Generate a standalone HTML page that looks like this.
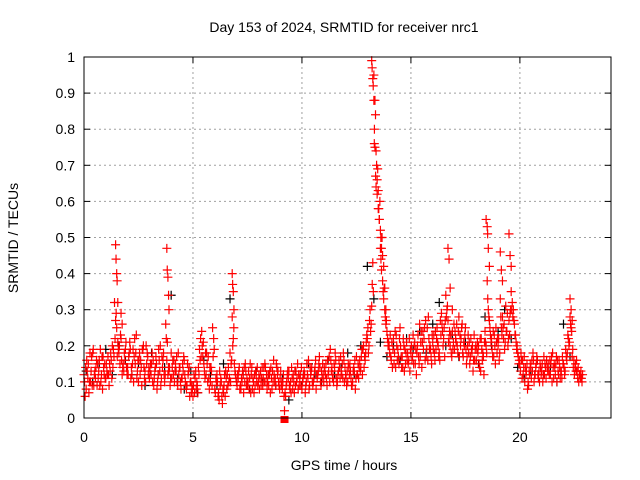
<!DOCTYPE html>
<html><head><meta charset="utf-8"><style>
body{margin:0;background:#fff}
svg{display:block;font-family:"Liberation Sans",sans-serif}
</style></head><body>
<svg id="chart" width="640" height="480" viewBox="0 0 640 480">
<rect width="640" height="480" fill="#fff"/>
<text x="344" y="32" font-size="14" text-anchor="middle">Day 153 of 2024, SRMTID for receiver nrc1</text>
<text x="344" y="470" font-size="14" text-anchor="middle">GPS time / hours</text>
<text transform="translate(18,238) rotate(-90)" font-size="14" text-anchor="middle">SRMTID / TECUs</text>
<g id="grid"></g><g id="ticks"></g><g id="black"></g><g id="red"></g>
<rect x="84" y="57" width="527" height="361" fill="none" stroke="#000" stroke-width="1"/>
</svg>
<script>
const xTicks=[0,5,10,15,20];
const yTicks=[0,0.1,0.2,0.3,0.4,0.5,0.6,0.7,0.8,0.9,1];
const yTickLabels=["0","0.1","0.2","0.3","0.4","0.5","0.6","0.7","0.8","0.9","1"];
const seriesStep=0.1;
const seriesAStart=0, seriesBStart=0.05, seriesCStart=0.025, seriesDStart=0.075;
const seriesA=[.12,.08,.15,.10,.18,.13,.09,.16,.12,.14,.11,.17,.13,.20,.32,.25,.18,.22,.15,.19,.14,.21,.12,.17,.23,.10,.16,.19,.13,.18,.11,.15,.09,.17,.12,.20,.14,.10,.16,.13,.18,.12,.15,.09,.14,.11,.16,.08,.13,.10,.06,.11,.09,.19,.24,.15,.12,.17,.10,.25,.08,.12,.05,.10,.07,.13,.09,.18,.28,.15,.10,.13,.08,.12,.15,.09,.11,.14,.07,.12,.10,.13,.09,.15,.08,.12,.11,.16,.09,.13,.11,.08,.02,.10,.13,.07,.12,.09,.15,.11,.08,.13,.10,.16,.12,.09,.14,.11,.17,.13,.10,.15,.12,.19,.11,.14,.09,.16,.13,.18,.12,.10,.15,.09,.13,.17,.11,.14,.19,.16,.22,.27,.31,.95,.74,.63,.47,.38,.30,.24,.20,.16,.22,.14,.19,.25,.17,.13,.21,.16,.18,.23,.15,.20,.26,.14,.22,.17,.28,.19,.21,.16,.25,.18,.29,.22,.34,.27,.20,.24,.19,.26,.28,.22,.17,.25,.20,.15,.18,.23,.16,.20,.13,.18,.24,.38,.27,.22,.17,.25,.20,.33,.28,.19,.24,.27,.35,.30,.23,.18,.15,.11,.17,.13,.09,.14,.18,.12,.16,.10,.13,.17,.11,.15,.12,.18,.14,.10,.16,.13,.15,.19,.23,.28,.17,.12,.16,.10,.13];
const seriesB=[.06,.13,.10,.17,.09,.14,.11,.19,.08,.15,.13,.09,.16,.19,.27,.21,.15,.12,.18,.14,.17,.11,.19,.15,.13,.18,.09,.14,.20,.12,.15,.10,.13,.08,.16,.11,.18,.26,.12,.09,.14,.10,.17,.12,.08,.13,.10,.15,.06,.09,.12,.08,.14,.22,.17,.11,.15,.08,.13,.22,.11,.06,.09,.04,.12,.08,.10,.15,.22,.12,.12,.08,.10,.14,.09,.13,.07,.11,.09,.14,.08,.11,.14,.10,.12,.07,.13,.10,.14,.09,.09,.12,.06,.13,.08,.11,.07,.10,.12,.09,.11,.07,.12,.09,.14,.11,.08,.13,.10,.15,.13,.09,.17,.13,.10,.16,.12,.11,.15,.10,.09,.14,.11,.13,.08,.12,.16,.19,.14,.21,.18,.24,.43,.88,.66,.55,.41,.33,.26,.20,.23,.14,.18,.20,.15,.17,.22,.15,.18,.13,.16,.20,.12,.17,.21,.24,.16,.25,.19,.15,.23,.19,.20,.27,.24,.17,.30,.22,.18,.21,.22,.18,.23,.26,.20,.15,.18,.22,.13,.19,.21,.14,.19,.12,.20,.30,.23,.17,.20,.18,.16,.25,.22,.31,.20,.29,.32,.26,.19,.15,.18,.12,.14,.08,.12,.16,.10,.15,.11,.14,.10,.15,.14,.12,.17,.11,.15,.13,.11,.17,.12,.16,.20,.25,.14,.15,.11,.12,.10];
const seriesC=[.10,.16,.07,.13,.19,.11,.15,.09,.17,.12,.15,.12,.18,.14,.22,.17,.20,.16,.13,.21,.12,.19,.15,.22,.11,.16,.14,.20,.10,.17,.13,.18,.11,.15,.19,.09,.16,.12,.21,.14,.11,.16,.13,.18,.10,.15,.12,.09,.14,.07,.09,.13,.07,.16,.20,.13,.18,.11,.14,.17,.07,.10,.13,.06,.09,.11,.14,.10,.20,.13,.09,.14,.11,.07,.13,.10,.15,.08,.12,.10,.12,.09,.11,.14,.10,.13,.08,.12,.15,.10,.13,.10,.07,.12,.09,.14,.10,.13,.08,.12,.10,.12,.15,.08,.13,.10,.16,.12,.14,.11,.14,.11,.13,.16,.12,.18,.10,.14,.12,.16,.11,.15,.13,.10,.16,.12,.14,.17,.20,.18,.25,.30,.37,.80,.70,.58,.44,.35,.28,.22,.18,.21,.15,.23,.17,.20,.14,.19,.16,.22,.20,.15,.19,.23,.17,.21,.25,.19,.22,.17,.19,.24,.21,.16,.26,.25,.28,.21,.23,.19,.24,.20,.17,.25,.21,.19,.23,.17,.20,.16,.19,.15,.22,.17,.21,.33,.25,.19,.23,.21,.22,.28,.25,.21,.29,.23,.30,.27,.21,.17,.13,.16,.10,.15,.13,.11,.16,.14,.12,.15,.15,.12,.16,.13,.15,.14,.12,.16,.14,.11,.14,.17,.22,.26,.19,.14,.13,.12,.11];
const seriesD=[.14,.11,.18,.09,.12,.16,.13,.10,.17,.11,.12,.15,.11,.17,.29,.19,.23,.14,.16,.12,.18,.14,.10,.18,.16,.12,.19,.11,.15,.14,.12,.16,.14,.10,.13,.17,.12,.22,.14,.11,.16,.13,.10,.14,.11,.17,.09,.12,.10,.08,.07,.10,.12,.17,.21,.18,.10,.14,.09,.19,.10,.07,.11,.08,.06,.12,.11,.16,.25,.11,.11,.09,.13,.10,.11,.08,.12,.10,.13,.09,.11,.14,.10,.12,.09,.14,.10,.11,.12,.08,.10,.06,.09,.11,.10,.08,.13,.11,.09,.14,.12,.09,.11,.14,.10,.13,.12,.15,.09,.12,.12,.16,.10,.14,.15,.11,.13,.17,.11,.14,.13,.12,.09,.14,.11,.15,.13,.12,.17,.23,.20,.26,.35,.84,.69,.60,.50,.36,.27,.21,.17,.19,.24,.16,.22,.14,.20,.18,.15,.19,.17,.21,.18,.15,.24,.19,.27,.16,.20,.23,.18,.22,.17,.23,.20,.27,.31,.24,.17,.26,.21,.24,.20,.18,.23,.17,.21,.19,.16,.20,.18,.22,.16,.21,.18,.28,.21,.24,.15,.22,.18,.23,.26,.24,.22,.30,.28,.23,.20,.16,.16,.14,.12,.10,.15,.13,.12,.17,.13,.12,.12,.14,.13,.16,.10,.15,.17,.12,.13,.15,.13,.18,.21,.24,.16,.13,.14,.11,.12];
const spikeT=[1.45,1.47,1.5,1.52,1.55,1.7,1.75,3.8,3.82,3.85,3.88,3.9,6.8,6.82,6.85,6.88,13.2,13.22,13.25,13.27,13.3,13.32,13.35,13.38,13.4,13.45,13.5,13.55,13.6,13.62,13.65,13.7,13.75,13.8,13.85,16.7,16.75,16.8,16.9,18.45,18.5,18.52,18.55,18.6,19.1,19.15,19.2,19.5,19.55,19.6,22.3,22.35,22.4];
const spikeV=[.48,.44,.40,.38,.32,.29,.26,.47,.41,.39,.34,.30,.40,.37,.35,.30,.99,.97,.94,.92,.88,.76,.75,.67,.64,.62,.58,.55,.52,.50,.47,.45,.42,.36,.30,.47,.44,.36,.30,.55,.53,.51,.47,.42,.46,.41,.38,.51,.45,.42,.33,.30,.27];
const blackStart=0.1, blackStep=0.3;
const blackV=[.13,.10,.15,.19,.12,.20,.16,.12,.15,.09,.18,.12,.14,.34,.11,.08,.13,.07,.16,.12,.09,.15,.33,.10,.12,.08,.13,.10,.12,.09,.11,.05,.13,.09,.15,.12,.10,.16,.12,.14,.18,.12,.20,.42,.33,.21,.17,.20,.16,.22,.19,.24,.18,.26,.32,.20,.23,.17,.21,.19,.15,.28,.20,.24,.30,.22,.14,.11,.13,.16,.12,.14,.10,.26,.17,.13];
const markerT=[9.2], markerV=[0];

const NS="http://www.w3.org/2000/svg";
const X0=84,XR=611,YB=418,YT=57,XMAX=24.18;
function xs(t){return X0+t/XMAX*(XR-X0);}
function ys(v){return YB-v*(YB-YT);}
function mk(tag,attrs,parent){const e=document.createElementNS(NS,tag);for(const k in attrs)e.setAttribute(k,attrs[k]);parent.appendChild(e);return e;}
const grid=document.getElementById('grid'),ticks=document.getElementById('ticks');
yTicks.forEach((v,i)=>{const y=ys(v);
 if(i>0&&i<yTicks.length-1){const g=mk('line',{x1:X0,x2:XR,y1:y,y2:y,stroke:'#a0a0a0','stroke-dasharray':'2,3'},grid);
 
 }
 mk('line',{x1:X0,x2:X0+6,y1:y,y2:y,stroke:'#000'},ticks);
 mk('line',{x1:XR,x2:XR-6,y1:y,y2:y,stroke:'#000'},ticks);
 const t=mk('text',{x:X0-9,y:y+5,'font-size':14,'text-anchor':'end'},ticks);t.textContent=yTickLabels[i];
 
 
});
xTicks.forEach(v=>{const x=xs(v);
 if(v>0){const g=mk('line',{x1:x,x2:x,y1:YT,y2:YB,stroke:'#a0a0a0','stroke-dasharray':'2,3'},grid);
 
 }
 mk('line',{x1:x,x2:x,y1:YB,y2:YB-6,stroke:'#000'},ticks);
 mk('line',{x1:x,x2:x,y1:YT,y2:YT+6,stroke:'#000'},ticks);
 const t=mk('text',{x:x,y:YB+24,'font-size':14,'text-anchor':'middle'},ticks);t.textContent=String(v);
 
 
});
function plus(g,t,v,col){const x=xs(t),y=ys(v);
 const p=mk('path',{d:`M${x-4.5},${y}H${x+4.5}M${x},${y-4.5}V${y+4.5}`,stroke:col,'stroke-width':1.2,fill:'none'},g);
 
 }
const bg=document.getElementById('black'),rg=document.getElementById('red');
blackV.forEach((v,i)=>plus(bg,blackStart+i*blackStep,v,'#000'));
seriesA.forEach((v,i)=>plus(rg,seriesAStart+i*seriesStep,v,'#f00'));
seriesB.forEach((v,i)=>plus(rg,seriesBStart+i*seriesStep,v,'#f00'));
seriesC.forEach((v,i)=>plus(rg,seriesCStart+i*seriesStep,v,'#f00'));
seriesD.forEach((v,i)=>plus(rg,seriesDStart+i*seriesStep,v,'#f00'));
spikeT.forEach((t,i)=>plus(rg,t,spikeV[i],'#f00'));
markerT.forEach((t,i)=>{const r=mk('rect',{x:xs(t)-4,y:ys(markerV[i])-2,width:8,height:7,fill:'#f00'},rg);
 
 });
</script>
</body></html>
